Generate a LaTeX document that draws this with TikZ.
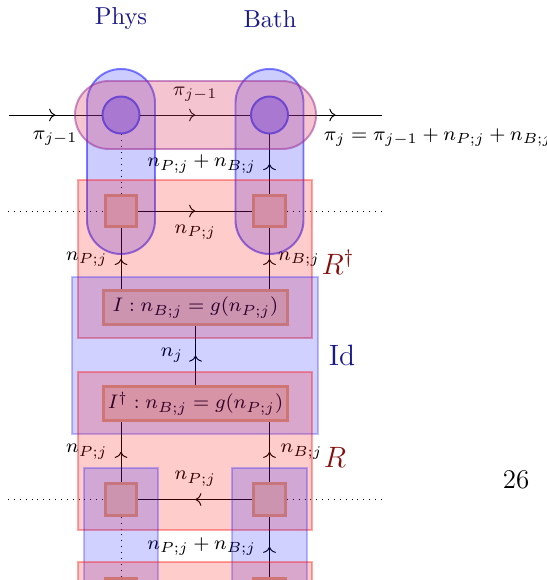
\documentclass[tikz,border=0pt]{standalone}
\usepackage{amsmath,amssymb}
\usepackage{tikz}
\usetikzlibrary{positioning,arrows.meta,decorations.markings,calc}
\definecolor{legblue}{RGB}{25,25,140}
\definecolor{legred}{RGB}{135,12,12}
\definecolor{capred}{RGB}{220,60,100}
\definecolor{capline}{RGB}{150,40,150}
\definecolor{sitefill}{RGB}{184,184,255}
\definecolor{siteline}{RGB}{77,95,255}
\definecolor{cellfill}{RGB}{251,227,199}
\definecolor{cellline}{RGB}{240,180,123}
\tikzset{
  site/.style={circle,draw=siteline,fill=sitefill,line width=0.8pt,minimum size=15.1pt,inner sep=0pt},
  cell/.style={rectangle,draw=cellline,fill=cellfill,line width=1.2pt,minimum size=13pt,inner sep=0pt},
  gate/.style={rectangle,draw=cellline,fill=cellfill,line width=1.2pt,minimum width=74.7pt,minimum height=13.5pt,inner sep=0pt,font=\fontsize{8.4}{10}\selectfont},
  wire/.style={line width=0.4pt},
  midarrow/.style={postaction={decorate},decoration={markings,mark=at position 0.5 with {\arrow{>}}}},
  lab/.style={font=\fontsize{8.4}{10}\selectfont},
  tag/.style={text=legblue},
  blobblue/.style={fill=blue,fill opacity=0.2,draw=blue,draw opacity=0.5,line width=0.8pt},
  blobpink/.style={fill=capred,fill opacity=0.3,draw=capline,draw opacity=0.5,line width=0.8pt},
  blobred/.style={fill=red,fill opacity=0.2,draw=red,draw opacity=0.35,line width=0.5pt},
  blobid/.style={fill=blue,fill opacity=0.18,draw=blue,draw opacity=0.25,line width=0.5pt}
}
\begin{document}
\begin{tikzpicture}[x=0.408pt,y=-0.408pt]
  \useasboundingbox (0,0) rectangle (547,580);
  \clip (0,0) rectangle (547,580);
  % column titles
  \node[tag] (phys) at (121,19) {Phys};
  \node[tag] (bath) at (270,19) {Bath};
  % sites and cells
  \node[site] (sP) at (121,115) {};
  \node[site] (sB) at (269.5,115) {};
  \coordinate (inL) at (9,115);
  \coordinate (outR) at (382,115);
  \node[cell] (uP) at (121,211) {};
  \node[cell] (uB) at (269.5,211) {};
  \coordinate (uL) at (8,211);
  \coordinate (uR) at (382,211);
  \node[gate] (iso) at (195.5,307.5) {$I : n_{B;j} = g(n_{P;j})$};
  \node[gate] (isod) at (195.5,403.5) {$I^\dagger : n_{B;j} = g(n_{P;j})$};
  \node[cell] (dP) at (121,499.5) {};
  \node[cell] (dB) at (269.5,499.5) {};
  \coordinate (dL) at (8,499.5);
  \coordinate (dR) at (382,499.5);
  \node[cell] (eP) at (121,594) {};
  \node[cell] (eB) at (269.5,594) {};
  % top line
  \draw[wire,midarrow] (inL) -- node[lab,below=3pt] {$\pi_{j-1}$} (sP);
  \draw[wire,midarrow] (sP) -- node[lab,above=2pt] {$\pi_{j-1}$} (sB);
  \draw[wire,midarrow] (sB) -- node[lab,font=\fontsize{8}{10}\selectfont,pos=0.37,anchor=north west,inner sep=0pt,yshift=-5.3pt] {$\pi_j = \pi_{j-1} + n_{P;j} + n_{B;j}$} (outR);
  \draw[wire,dotted] (sP) -- (uP);
  \draw[wire,midarrow] (uB) -- node[lab,left=2pt] {$n_{P;j} + n_{B;j}$} (sB);
  % R dagger
  \draw[wire,dotted] (uL) -- (uP);
  \draw[wire,midarrow] (uP) -- node[lab,below=2pt] {$n_{P;j}$} (uB);
  \draw[wire,dotted] (uB) -- (uR);
  \draw[wire,midarrow] (uP |- iso.north) -- node[lab,left=2pt] {$n_{P;j}$} (uP);
  \draw[wire,midarrow] (uB |- iso.north) -- node[lab,right] {$n_{B;j}$} (uB);
  \draw[wire,midarrow] (isod) -- node[lab,left=1.5pt] {$n_j$} (iso);
  % R
  \draw[wire,midarrow] (dP) -- node[lab,left=2pt] {$n_{P;j}$} (dP |- isod.south);
  \draw[wire,midarrow] (dB) -- node[lab,right=1pt] {$n_{B;j}$} (dB |- isod.south);
  \draw[wire,dotted] (dL) -- (dP);
  \draw[wire,midarrow] (dB) -- node[lab,above=2pt] {$n_{P;j}$} (dP);
  \draw[wire,dotted] (dB) -- (dR);
  \draw[wire,dotted] (eP) -- (dP);
  \draw[wire,midarrow] (eB) -- node[lab,left=2pt] {$n_{P;j} + n_{B;j}$} (dB);
  % shaded groups
  \draw[blobblue,rounded corners=13.8pt] (87,69) rectangle (155,254);
  \draw[blobblue,rounded corners=13.8pt] (235.5,69) rectangle (303.5,254);
  \draw[blobpink,rounded corners=13.8pt] (75,81) rectangle (316,149);
  \draw[blobred] (78,180) rectangle (312,338);
  \draw[blobid] (72,277) rectangle (318,434);
  \draw[blobred] (78,372) rectangle (312,530);
  \draw[blobid] (84,468) rectangle (158,600);
  \draw[blobid] (232,468) rectangle (307,600);
  \draw[blobred] (78,562) rectangle (312,620);
  % side labels
  \node[text=legred,font=\large] (rdag) at (338,262) {$R^\dagger$};
  \node[text=legblue,font=\large] (ident) at (342,355) {Id};
  \node[text=legred,font=\large] (rop) at (335,457) {$R$};
  \node[font=\fontsize{11}{13}\selectfont] (page) at (516,480) {26};
\end{tikzpicture}
\end{document}
